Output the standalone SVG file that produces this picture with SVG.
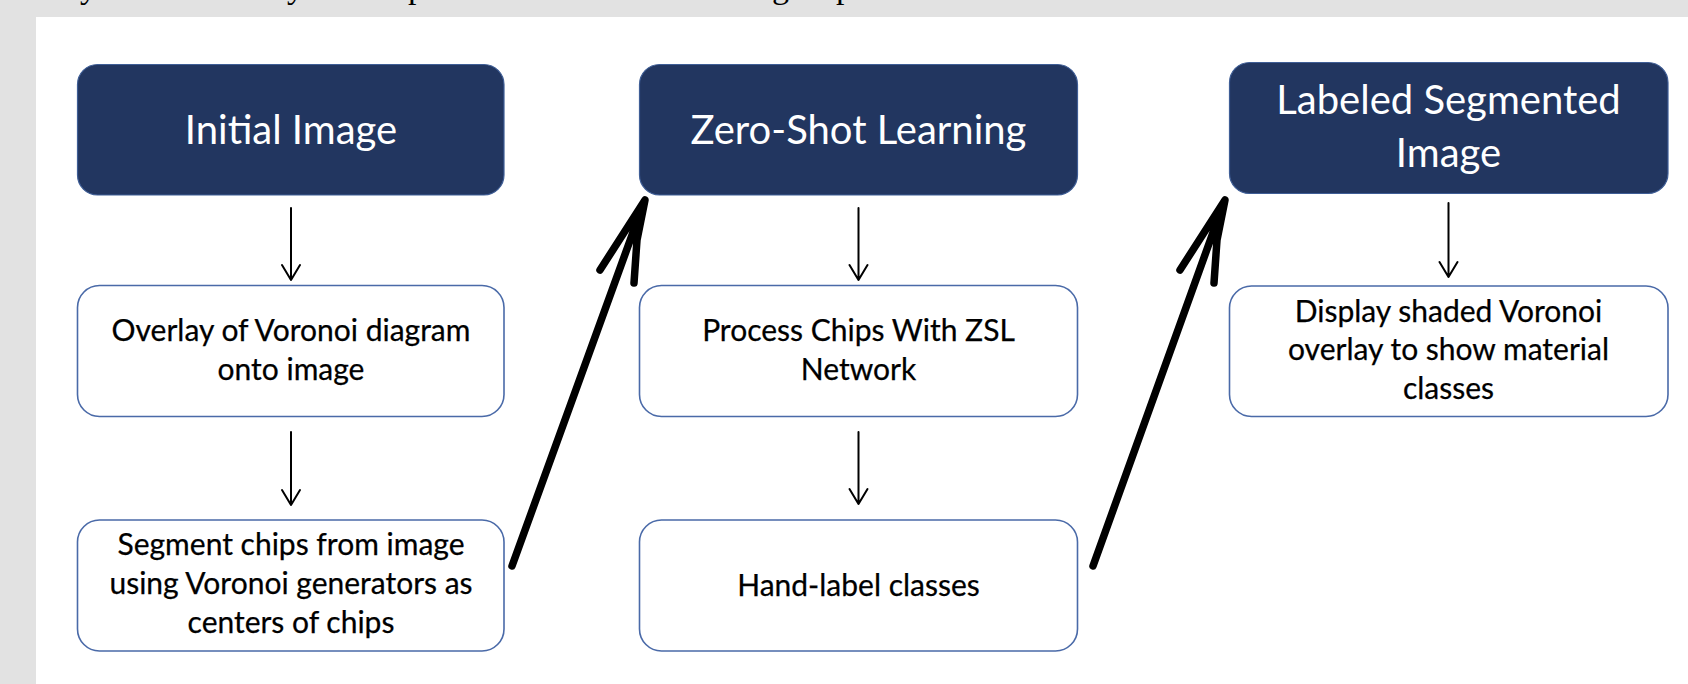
<svg xmlns="http://www.w3.org/2000/svg" width="1688" height="684" viewBox="0 0 1688 684">
<style>
.hdr{fill:#223660;stroke:#3f5e96;stroke-width:1.2}
.box{fill:#ffffff;stroke:#4a6aa8;stroke-width:1.6}
.ht{font-family:Lato,"Liberation Sans",sans-serif;font-size:40px;fill:#ffffff;text-anchor:middle}
.bt{font-family:Lato,"Liberation Sans",sans-serif;font-size:30px;fill:#000000;text-anchor:middle;stroke:#000;stroke-width:0.25}
.cut{font-family:"Liberation Serif",serif;font-size:34px;fill:#000000}
.small{stroke:#000;stroke-width:2;fill:none;stroke-linecap:round;stroke-linejoin:round}
.big{stroke:#000;stroke-width:7.5;fill:none;stroke-linecap:round;stroke-linejoin:round}
</style>
<rect x="0" y="0" width="1688" height="684" fill="#e2e2e2"/>
<rect x="36" y="17" width="1652" height="667" fill="#ffffff"/>
<g id="page-text-cut">
<text class="cut" x="80" y="-2">y</text>
<text class="cut" x="287" y="-2">y</text>
<text class="cut" x="408" y="-2">p</text>
<text class="cut" x="772" y="-2">g</text>
<text class="cut" x="836" y="-2">p</text>
</g>
<g id="connectors">
<path class="small" d="M291,208 V280 M282,265 L291,280 L300,265"/>
<path class="small" d="M291,432 V505 M282,490 L291,505 L300,490"/>
<path class="small" d="M858.5,208 V280 M849.5,265 L858.5,280 L867.5,265"/>
<path class="small" d="M858.5,432 V504 M849.5,489 L858.5,504 L867.5,489"/>
<path class="small" d="M1448.5,203 V277 M1439.5,262 L1448.5,277 L1457.5,262"/>
<path class="big" d="M512,566 L644,202 M600,270 L645,200 L637,240 L634,283"/>
<path class="big" d="M1093,566 L1224,202 M1180,270 L1225,200 L1217,240 L1214,283"/>
</g>
<g id="initial-image">
<rect class="hdr" x="77.5" y="64.5" width="426.5" height="130.5" rx="20"/>
<text class="ht" x="291" y="143.5">Initial Image</text>
</g>
<g id="overlay">
<rect class="box" x="77.5" y="285.5" width="426.5" height="131" rx="22"/>
<text class="bt" x="291" y="341">Overlay of Voronoi diagram</text>
<text class="bt" x="291" y="380">onto image</text>
</g>
<g id="segment">
<rect class="box" x="77.5" y="520" width="426.5" height="131" rx="22"/>
<text class="bt" x="291" y="555">Segment chips from image</text>
<text class="bt" x="291" y="594">using Voronoi generators as</text>
<text class="bt" x="291" y="633">centers of chips</text>
</g>
<g id="zero-shot">
<rect class="hdr" x="639.5" y="64.5" width="438" height="130.5" rx="20"/>
<text class="ht" x="858.5" y="143.5">Zero-Shot Learning</text>
</g>
<g id="process-chips">
<rect class="box" x="639.5" y="285.5" width="438" height="131" rx="22"/>
<text class="bt" x="858.5" y="341">Process Chips With ZSL</text>
<text class="bt" x="858.5" y="380">Network</text>
</g>
<g id="hand-label">
<rect class="box" x="639.5" y="520" width="438" height="131" rx="22"/>
<text class="bt" x="858.5" y="595.5">Hand-label classes</text>
</g>
<g id="labeled-segmented">
<rect class="hdr" x="1229.5" y="62.5" width="438.5" height="131" rx="20"/>
<text class="ht" x="1448.5" y="113.5">Labeled Segmented</text>
<text class="ht" x="1448.5" y="166.5">Image</text>
</g>
<g id="display">
<rect class="box" x="1229.5" y="286" width="438.5" height="130.5" rx="22"/>
<text class="bt" x="1448.5" y="321.5">Display shaded Voronoi</text>
<text class="bt" x="1448.5" y="360">overlay to show material</text>
<text class="bt" x="1448.5" y="398.5">classes</text>
</g>
</svg>
